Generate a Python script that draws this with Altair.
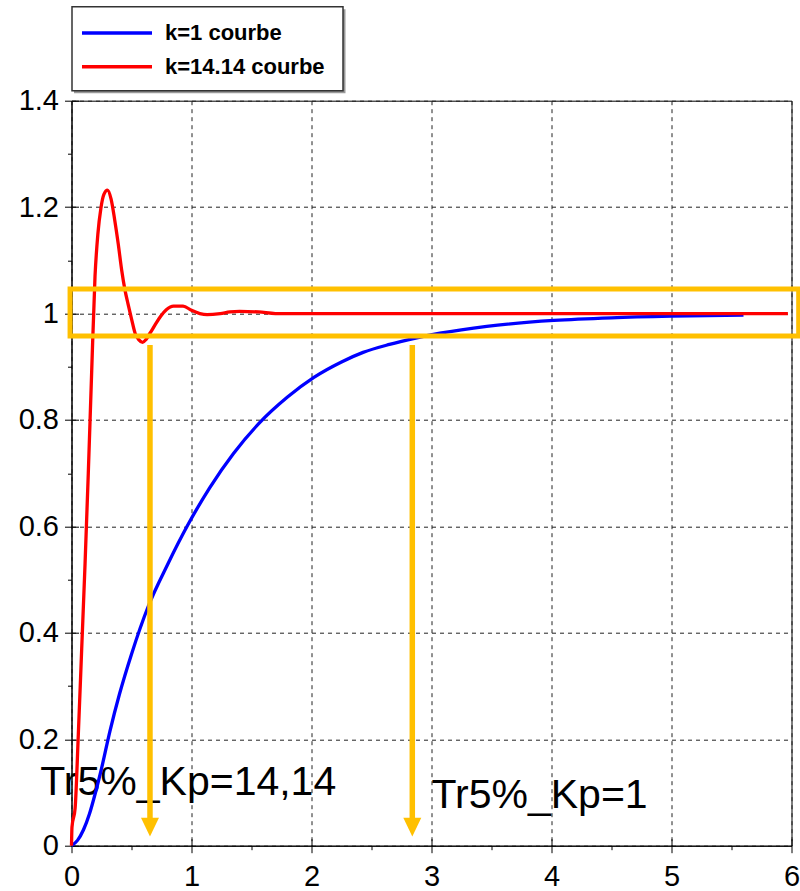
import altair as alt
import pandas as pd

# ---------------- data ----------------
series_names = ["k=1 courbe", "k=14.14 courbe"]
series_colors = ["#0000ff", "#ff0000"]

t_k1 = [0, 0.05, 0.1, 0.15, 0.2, 0.25, 0.32, 0.4, 0.5, 0.64, 0.8, 0.97, 1.15, 1.35,
        1.56, 1.8, 2.02, 2.25, 2.43, 2.65, 2.85, 3.07, 3.46, 4.02, 4.5, 5.0, 5.6]
y_k1 = [0, 0.01, 0.03, 0.06, 0.1, 0.145, 0.215, 0.285, 0.36, 0.45, 0.528, 0.603, 0.672, 0.737,
        0.793, 0.843, 0.88, 0.909, 0.927, 0.942, 0.953, 0.963, 0.976, 0.987, 0.992, 0.995, 0.997]

t_k14 = [0, 0.004, 0.03, 0.057, 0.085, 0.113, 0.14, 0.168, 0.196, 0.22, 0.245, 0.27, 0.30,
         0.33, 0.36, 0.39, 0.418, 0.445, 0.47, 0.5, 0.53, 0.56, 0.593, 0.62, 0.654, 0.7,
         0.74, 0.79, 0.85, 0.93, 1.0, 1.07, 1.13, 1.24, 1.32, 1.40, 1.56, 1.7, 2.0, 3.0,
         4.0, 5.0, 5.97]
y_k14 = [0, 0.035, 0.07, 0.21, 0.37, 0.53, 0.70, 0.89, 1.07, 1.15, 1.198, 1.224, 1.232,
         1.215, 1.176, 1.13, 1.082, 1.045, 1.019, 0.99, 0.963, 0.951, 0.946, 0.951, 0.963, 0.98,
         0.994, 1.007, 1.014, 1.014, 1.006, 1.0, 0.998, 1.0, 1.003, 1.004, 1.003, 1.0, 1.0, 1.0,
         1.0, 1.0, 1.0]

x_ticks = [0, 1, 2, 3, 4, 5, 6]
x_minor = [0.5, 1.5, 2.5, 3.5, 4.5, 5.5]
y_ticks = [0, 0.2, 0.4, 0.6, 0.8, 1.0, 1.2, 1.4]
y_minor = [0.1, 0.3, 0.5, 0.7, 0.9, 1.1, 1.3]

band_x = [-0.012, 6.06]
band_y = [0.958, 1.046]
arrow_t = [0.654, 2.84]
arrow_top = [0.941, 0.941]
arrow_bottom = [0.05, 0.05]
arrow_head = [0.035, 0.035]
note_text = ["Tr5%_Kp=14,14", "Tr5%_Kp=1"]
note_x = [-0.26, 3.0]
note_y = [0.096, 0.071]

ORANGE = "#ffc000"
FONT = "Liberation Sans"
GRID = "#222222"

# ---------------- tables ----------------
curves = pd.concat([
    pd.DataFrame({"t": t_k1, "y": y_k1, "serie": series_names[0]}),
    pd.DataFrame({"t": t_k14, "y": y_k14, "serie": series_names[1]}),
])
band_df = pd.DataFrame({"x0": [band_x[0]], "x1": [band_x[1]], "lo": [band_y[0]], "hi": [band_y[1]]})
arrow_df = pd.DataFrame({"t": arrow_t, "top": arrow_top, "bottom": arrow_bottom, "head": arrow_head})
note_df = pd.DataFrame({"x": note_x, "y": note_y, "label": note_text})
one = pd.DataFrame({"a": [0]})

xs = alt.Scale(domain=[0, 6], nice=False, zero=False)
ys = alt.Scale(domain=[0, 1.4], nice=False, zero=False)

main_x_axis = alt.Axis(values=x_ticks, format="~g", title=None, tickSize=7, labelPadding=10,
                       labelFontSize=29, labelFont=FONT, labelColor="black", labelFlush=False,
                       labelOverlap=False, grid=True, gridDash=[4, 4], gridColor=GRID,
                       domainColor="black", tickColor="black", orient="bottom")
main_y_axis = alt.Axis(values=y_ticks, format="~g", title=None, tickSize=7, labelPadding=6,
                       labelFontSize=29, labelFont=FONT, labelColor="black",
                       labelOverlap=False, grid=True, gridDash=[4, 4], gridColor=GRID,
                       domainColor="black", tickColor="black", orient="left")
minor_x_axis = alt.Axis(values=x_minor, title=None, tickSize=4, labels=False, domain=False,
                        grid=False, tickColor="black", orient="bottom")
minor_y_axis = alt.Axis(values=y_minor, title=None, tickSize=4, labels=False, domain=False,
                        grid=False, tickColor="black", orient="left")
inner_x_axis = alt.Axis(values=x_ticks, title=None, tickSize=7, offset=-7, labels=False,
                        domain=False, grid=False, tickColor="black", orient="bottom")
inner_y_axis = alt.Axis(values=y_ticks, title=None, tickSize=7, offset=-7, labels=False,
                        domain=False, grid=False, tickColor="black", orient="left")

notes = alt.Chart(note_df).mark_text(
    align="left", baseline="alphabetic", fontSize=41, font=FONT, color="black", clip=False
).encode(
    x=alt.X("x:Q", scale=xs, axis=None),
    y=alt.Y("y:Q", scale=ys, axis=None),
    text="label:N",
)

curve_layer = alt.Chart(curves).mark_line(strokeWidth=3.3, interpolate="monotone").encode(
    x=alt.X("t:Q", scale=xs, axis=main_x_axis),
    y=alt.Y("y:Q", scale=ys, axis=main_y_axis),
    color=alt.Color("serie:N", scale=alt.Scale(domain=series_names, range=series_colors), legend=None),
    detail="serie:N",
)

band = alt.Chart(band_df).mark_rect(
    fillOpacity=0, stroke=ORANGE, strokeWidth=5, clip=False
).encode(
    x=alt.X("x0:Q", scale=xs, axis=minor_x_axis),
    x2="x1:Q",
    y=alt.Y("lo:Q", scale=ys, axis=minor_y_axis),
    y2="hi:Q",
)

arrows = alt.Chart(arrow_df).mark_rule(color=ORANGE, strokeWidth=5.5).encode(
    x=alt.X("t:Q", scale=xs, axis=inner_x_axis),
    y=alt.Y("top:Q", scale=ys, axis=inner_y_axis),
    y2="bottom:Q",
)

heads = alt.Chart(arrow_df).mark_point(
    shape="M-1,-1.05L1,-1.05L0,1.05Z", filled=True, size=324, color=ORANGE, opacity=1
).encode(
    x=alt.X("t:Q", scale=xs, axis=None),
    y=alt.Y("head:Q", scale=ys, axis=None),
)

# ---------------- legend box (drawn above the plot area) ----------------
legend_layers = [
    alt.Chart(one).mark_rect(fill="#9a9a9a").encode(
        x=alt.value(2.5), x2=alt.value(274), y=alt.value(-91.5), y2=alt.value(-7.5)),
    alt.Chart(one).mark_rect(fill="white", stroke="#333333", strokeWidth=1.5).encode(
        x=alt.value(0.5), x2=alt.value(271.5), y=alt.value(-94), y2=alt.value(-10)),
]
legend_rows_y = [-67.7, -34]
for name, col, yy in zip(series_names, series_colors, legend_rows_y):
    legend_layers.append(
        alt.Chart(one).mark_rule(color=col, strokeWidth=3.5).encode(
            x=alt.value(10.5), x2=alt.value(80.5), y=alt.value(yy)))
    legend_layers.append(
        alt.Chart(one).mark_text(align="left", baseline="middle", fontSize=22,
                                 fontWeight="bold", font=FONT, color="black").encode(
            x=alt.value(93.5), y=alt.value(yy), text=alt.value(name)))

chart = alt.layer(
    notes, curve_layer, band, arrows, heads, *legend_layers
).resolve_axis(
    x="independent", y="independent"
).properties(
    width=720, height=745,
    autosize=alt.AutoSizeParams(type="none"),
    padding={"left": 71.5, "top": 100.7, "right": 8.5, "bottom": 45.3},
    background="white",
).configure_view(
    stroke="black", strokeWidth=1
)

chart.save("out.html", embed_options={"renderer": "svg", "actions": False})
